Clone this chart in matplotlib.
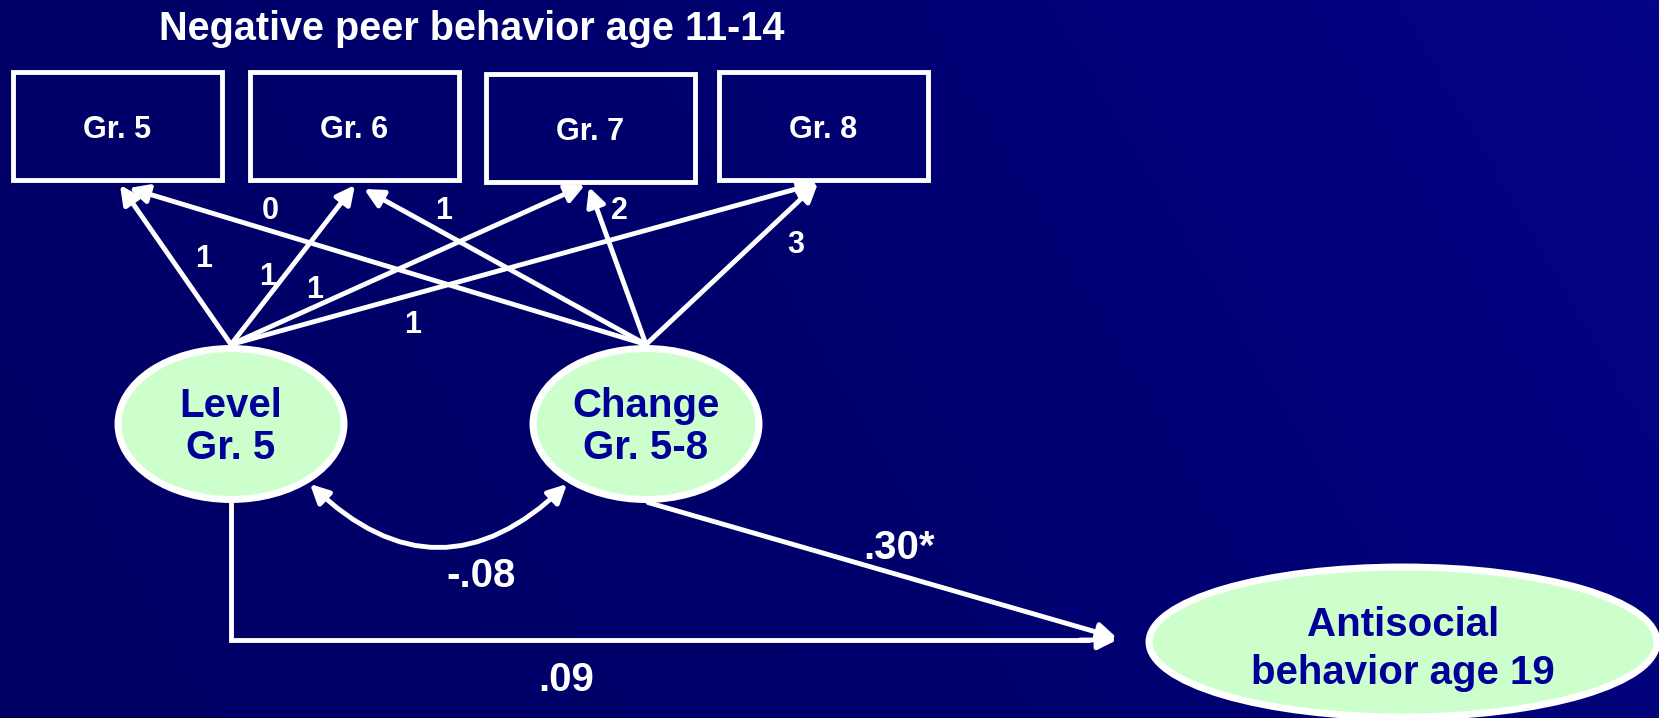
import numpy as np
import matplotlib.pyplot as plt
from matplotlib.patches import Rectangle, Ellipse, FancyArrowPatch
from matplotlib.colors import LinearSegmentedColormap

plt.rcParams['font.family'] = ['Liberation Sans', 'DejaVu Sans']

# model content
title = 'Negative peer behavior age 11-14'
indicators = ['Gr. 5', 'Gr. 6', 'Gr. 7', 'Gr. 8']
level_loadings = ['1', '1', '1', '1']
change_loadings = ['0', '1', '2', '3']
latent_names = [['Level', 'Gr. 5'], ['Change', 'Gr. 5-8']]
outcome_name = ['Antisocial', 'behavior age 19']
covariance = '-.08'
outcome_paths = ['.09', '.30*']

# layout (pixel space of the slide)
W, H = 1659, 718
box_x = [117, 354, 590, 823]
box_y = [126, 126, 128, 126]
box_w, box_h = 209, 108
level_xy = (231, 424)
change_xy = (646, 424)
ell_w, ell_h = 226, 151
out_xy = (1403, 642)
out_w, out_h = 508, 150

tips_level = [(120, 185), (355, 185), (585, 185), (818, 183)]
tips_change = [(129, 188), (364, 189), (589, 187), (818, 183)]
level_lab = [(204, 259), (268, 277), (315, 290), (413, 325)]
change_lab = [(270, 211), (444, 211), (619, 211), (796, 245)]

navy = '#000099'
green = '#CCFFCC'
lw = 3.5

fig = plt.figure(figsize=(W / 100, H / 100), dpi=100)
ax = fig.add_axes([0, 0, 1, 1])
ax.set_xlim(0, W)
ax.set_ylim(H, 0)
ax.axis('off')

# background gradient
cmap = LinearSegmentedColormap.from_list('bg', ['#000064', '#00006E', '#040486'])
gx, gy = np.meshgrid(np.linspace(0, 1, 300), np.linspace(0, 1, 130))
grad = 0.8 * gx + 0.2 * (1 - gy)
ax.imshow(grad, cmap=cmap, extent=[0, W, H, 0], aspect='auto', zorder=0)

ax.text(472, 29, title, color='white', fontsize=28.5, fontweight='bold',
        ha='center', va='center')

for name, x, y in zip(indicators, box_x, box_y):
    ax.add_patch(Rectangle((x - box_w / 2, y - box_h / 2), box_w, box_h,
                           fc='none', ec='white', lw=lw, zorder=2))
    ax.text(x, y + 4, name, color='white', fontsize=22, fontweight='bold',
            ha='center', va='center')


def arrow(p0, p1, style='-|>', rad=0.0):
    ax.add_patch(FancyArrowPatch(p0, p1, arrowstyle=style, mutation_scale=28,
                                 color='white', lw=lw, shrinkA=0, shrinkB=0,
                                 connectionstyle='arc3,rad=%s' % rad, zorder=3))


level_top = (level_xy[0], level_xy[1] - ell_h / 2 - 4)
change_top = (change_xy[0], change_xy[1] - ell_h / 2 - 4)
for tip in tips_level:
    arrow(level_top, tip)
for tip in tips_change:
    arrow(change_top, tip)

for lab, pos in zip(level_loadings, level_lab):
    ax.text(pos[0], pos[1], lab, color='white', fontsize=22, fontweight='bold',
            ha='center', va='center')
for lab, pos in zip(change_loadings, change_lab):
    ax.text(pos[0], pos[1], lab, color='white', fontsize=22, fontweight='bold',
            ha='center', va='center')

# latent factors
for (x, y), lines in zip([level_xy, change_xy], latent_names):
    ax.add_patch(Ellipse((x, y), ell_w, ell_h, fc=green, ec='white', lw=5, zorder=4))
    ax.text(x, y - 18, lines[0], color=navy, fontsize=29, fontweight='bold',
            ha='center', va='center', zorder=5)
    ax.text(x, y + 24, lines[1], color=navy, fontsize=29, fontweight='bold',
            ha='center', va='center', zorder=5)

ax.add_patch(Ellipse(out_xy, out_w, out_h, fc=green, ec='white', lw=5, zorder=4))
ax.text(out_xy[0], out_xy[1] - 17, outcome_name[0], color=navy, fontsize=29,
        fontweight='bold', ha='center', va='center', zorder=5)
ax.text(out_xy[0], out_xy[1] + 31, outcome_name[1], color=navy, fontsize=29,
        fontweight='bold', ha='center', va='center', zorder=5)

# covariance
arrow((310, 484), (567, 484), style='<|-|>', rad=0.48)
ax.text(481, 576, covariance, color='white', fontsize=29, fontweight='bold',
        ha='center', va='center')

# paths to outcome
tip_out = (1117, 640)
ax.plot([level_xy[0], level_xy[0], 1090], [level_xy[1] + ell_h / 2, tip_out[1], tip_out[1]],
        color='white', lw=lw, solid_capstyle='butt', solid_joinstyle='miter', zorder=3)
arrow((1080, tip_out[1]), tip_out)
arrow((change_xy[0] + 2, change_xy[1] + ell_h / 2 + 3), (tip_out[0], tip_out[1] - 2))
ax.text(566, 680, outcome_paths[0], color='white', fontsize=29, fontweight='bold',
        ha='center', va='center')
ax.text(899, 548, outcome_paths[1], color='white', fontsize=29, fontweight='bold',
        ha='center', va='center')

fig.savefig('out.png', dpi=100)
